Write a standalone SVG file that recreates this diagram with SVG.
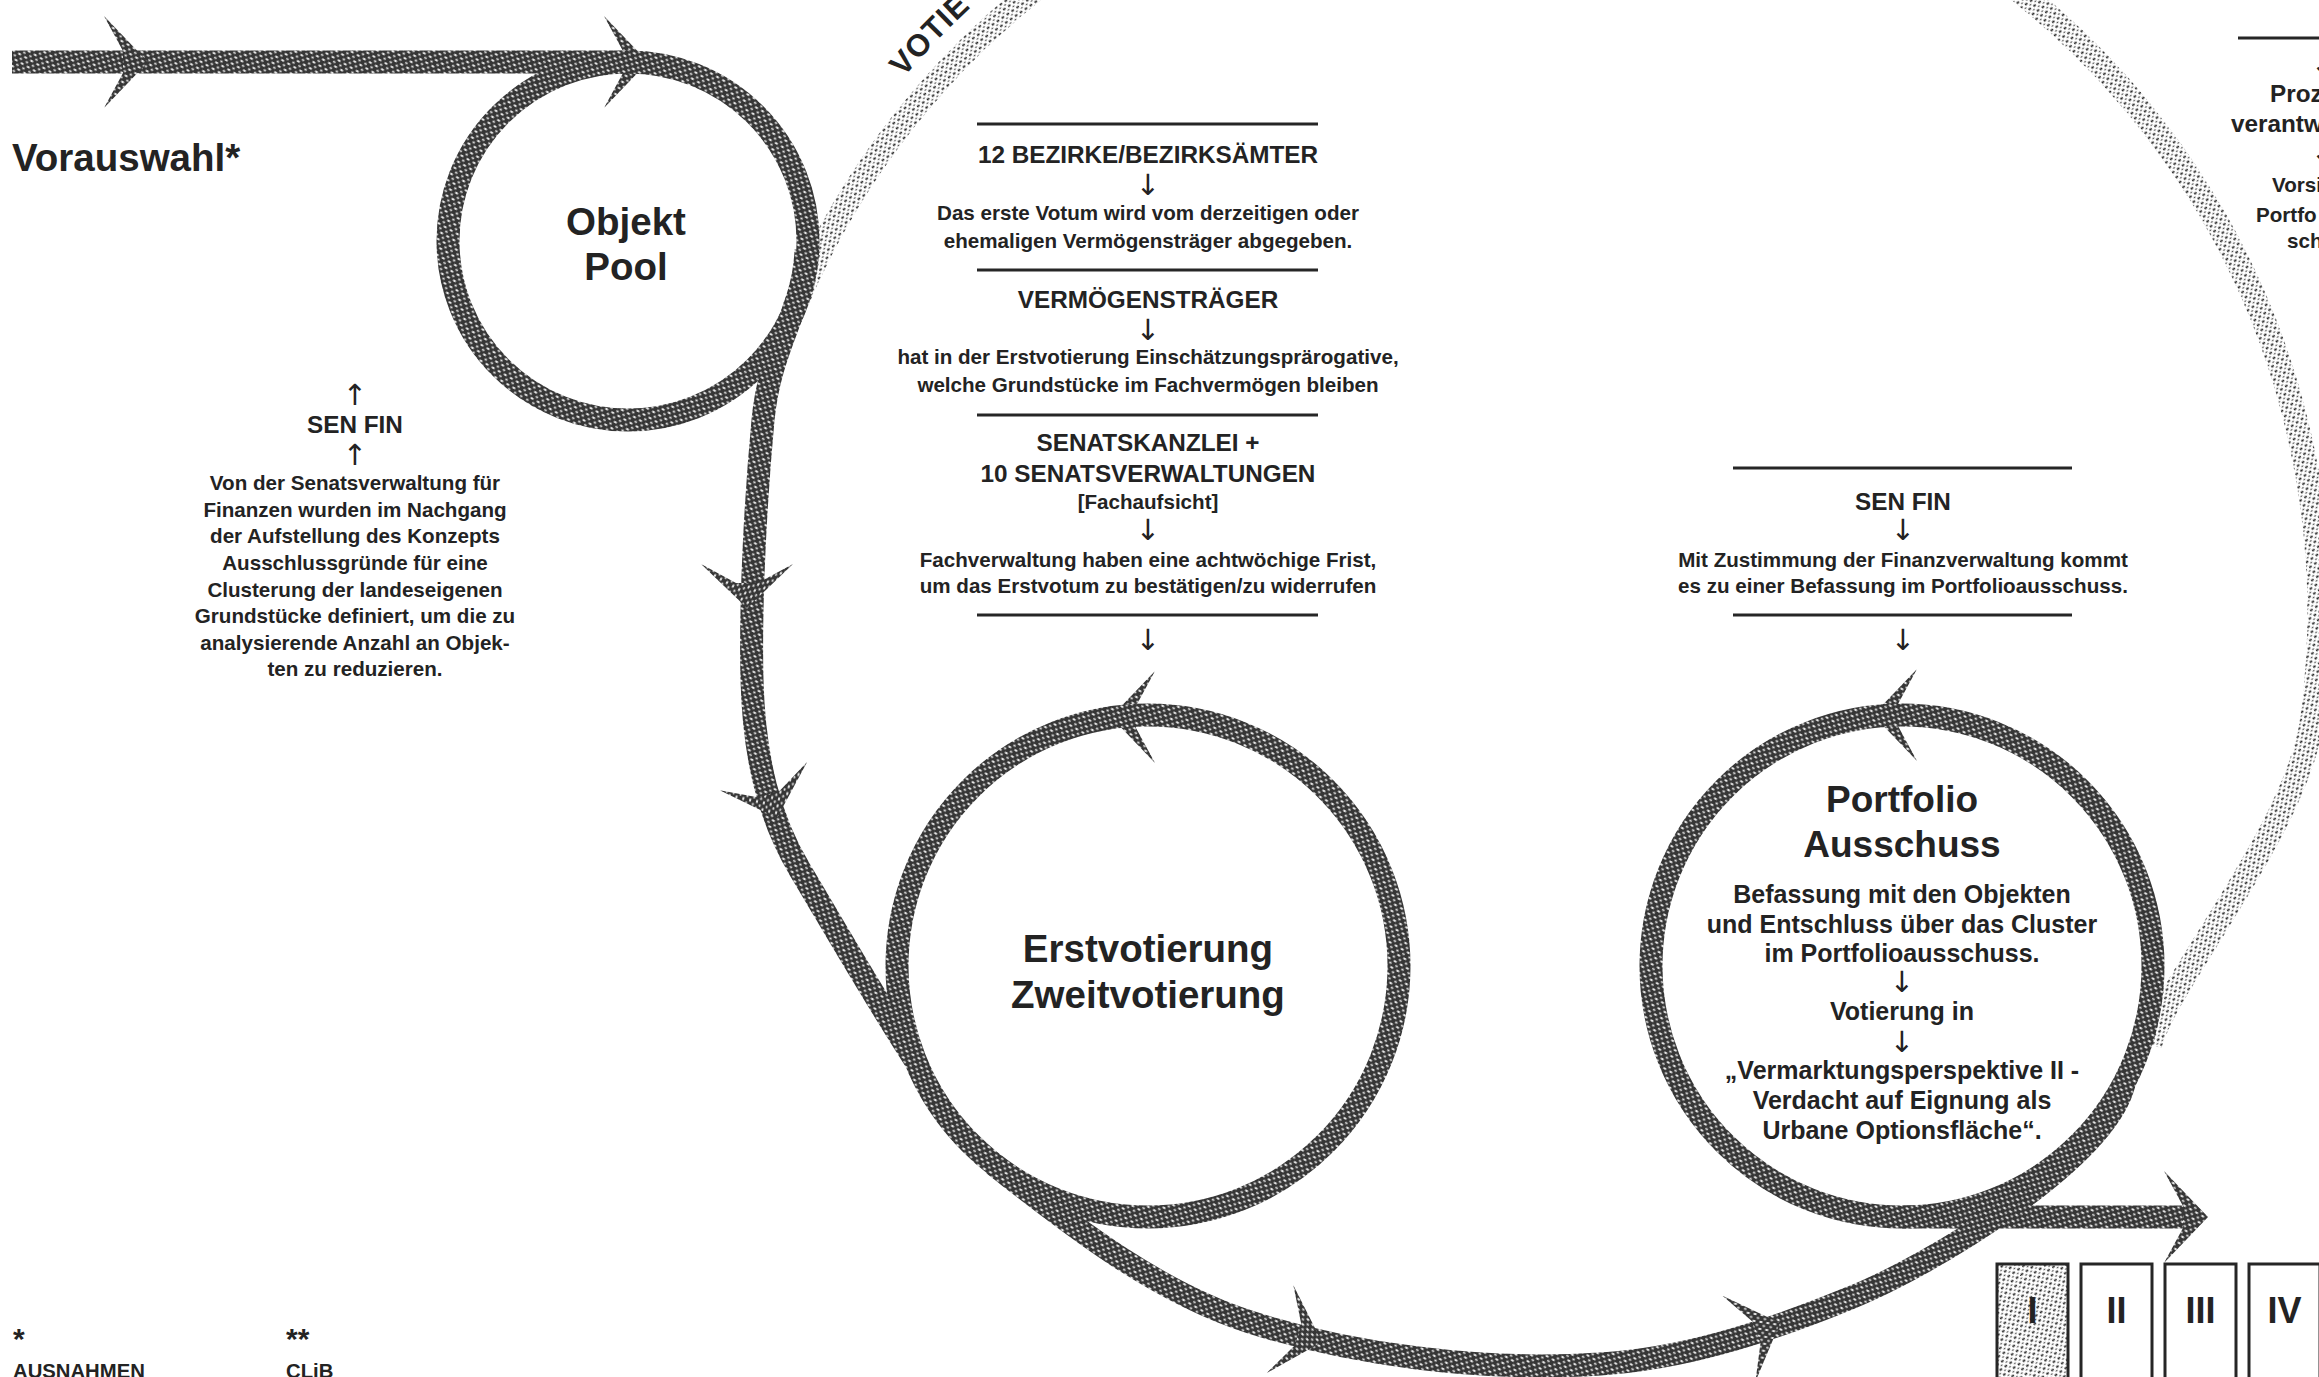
<svg xmlns="http://www.w3.org/2000/svg" width="2319" height="1377" viewBox="0 0 2319 1377">
<style>
text{font-family:"Liberation Sans",Arial,sans-serif;font-weight:700;fill:#232323}
.h{font-size:38.5px;text-anchor:middle}
.cap{font-size:24.3px;text-anchor:middle}
.b{font-size:20.6px;text-anchor:middle}
.pb{font-size:25px;text-anchor:middle}
.ar{font-family:"DejaVu Sans",sans-serif;font-size:29px;font-weight:400;text-anchor:middle;fill:#232323}
.st{text-anchor:start}
.rule{stroke:#262626;stroke-width:3.2;fill:none}
.rope{fill:none;stroke:url(#rope);stroke-width:23}
.ahd{fill:url(#rope)}
.box{stroke:#262626;stroke-width:3;fill:#fff}
.num{font-size:36px;text-anchor:middle}
</style>
<defs>
<pattern id="rope" width="7" height="7" patternUnits="userSpaceOnUse" patternTransform="rotate(30)">
<rect width="7" height="7" fill="#363636"/>
<ellipse cx="2" cy="2" rx="1.8" ry="1.1" fill="#f4f4f4"/>
<ellipse cx="5.5" cy="5.5" rx="1.4" ry="0.9" fill="#e4e4e4"/>
</pattern>
<pattern id="stip" width="6" height="6" patternUnits="userSpaceOnUse" patternTransform="rotate(-35)">
<rect width="6" height="6" fill="#fff"/>
<ellipse cx="1.5" cy="1.5" rx="1.7" ry="1.1" fill="#2a2a2a"/>
<ellipse cx="4.5" cy="4.5" rx="1.1" ry="0.7" fill="#4a4a4a"/>
</pattern>
<path id="ah" d="M0,0 L-44,-46 L-25,-11 L-25,11 L-44,46 Z"/>
<path id="votiePath" d="M903.5,77.5 A820,820 0 0 1 1246.5,-160.5" fill="none"/>
</defs>

<g id="votierung-ring">
<path d="M792,313 A793,793 0 0 1 2312,720 C2297,829 2165,985 2150,1045" fill="none" stroke="url(#stip)" stroke-width="24"/>
<text style="font-size:31px;letter-spacing:1px"><textPath href="#votiePath">VOTIE</textPath></text>
</g>

<g id="connectors">
<path class="rope" d="M12,62 L632,62"/>
<path class="rope" d="M806,250 C804,310 770,345 763,420 C756,495 750,600 752,680 C754,760 770,820 800,870 C830,920 870,990 915,1060"/>
<path class="rope" d="M993,1164 C1060,1216 1150,1290 1250,1322 C1350,1354 1480,1372 1600,1364 C1680,1359 1760,1335 1850,1298 C1930,1266 2105,1160 2124,1084"/>
<path class="rope" d="M1902,1217 L2185,1217"/>
<use href="#ah" class="ahd" transform="translate(148,62)"/>
<use href="#ah" class="ahd" transform="translate(648,62)"/>
<use href="#ah" class="ahd" transform="translate(747,608) rotate(90)"/>
<use href="#ah" class="ahd" transform="translate(777,818) rotate(72)"/>
<use href="#ah" class="ahd" transform="translate(1111,717) rotate(180)"/>
<use href="#ah" class="ahd" transform="translate(1873,715) rotate(180)"/>
<use href="#ah" class="ahd" transform="translate(1322,1342) rotate(17)"/>
<use href="#ah" class="ahd" transform="translate(1780,1323) rotate(-21)"/>
<use href="#ah" class="ahd" transform="translate(2208,1217)"/>
</g>

<g id="node-vorauswahl">
<text class="h st" x="12" y="171">Vorauswahl*</text>
</g>

<g id="node-objekt-pool">
<ellipse class="rope" cx="628" cy="241" rx="180" ry="179"/>
<text class="h" x="626" y="235">Objekt</text>
<text class="h" x="626" y="280">Pool</text>
</g>

<g id="node-erstvotierung">
<circle class="rope" cx="1148" cy="966" r="251"/>
<text class="h" x="1148" y="962">Erstvotierung</text>
<text class="h" x="1148" y="1008">Zweitvotierung</text>
</g>

<g id="node-portfolio">
<circle class="rope" cx="1902" cy="966" r="251"/>
<text class="h" x="1902" y="812" style="font-size:37px">Portfolio</text>
<text class="h" x="1902" y="857" style="font-size:37px">Ausschuss</text>
<text class="pb" x="1902" y="903">Befassung mit den Objekten</text>
<text class="pb" x="1902" y="933">und Entschluss über das Cluster</text>
<text class="pb" x="1902" y="962">im Portfolioausschuss.</text>
<text class="ar" x="1902" y="992">↓</text>
<text class="pb" x="1902" y="1020">Votierung in</text>
<text class="ar" x="1902" y="1052">↓</text>
<text class="pb" x="1902" y="1079">„Vermarktungsperspektive II -</text>
<text class="pb" x="1902" y="1109">Verdacht auf Eignung als</text>
<text class="pb" x="1902" y="1139">Urbane Optionsfläche“.</text>
</g>

<g id="note-senfin-left">
<text class="ar" x="355" y="405">↑</text>
<text class="cap" x="355" y="433">SEN FIN</text>
<text class="ar" x="355" y="465">↑</text>
<text class="b" x="355" y="490">Von der Senatsverwaltung für</text>
<text class="b" x="355" y="517">Finanzen wurden im Nachgang</text>
<text class="b" x="355" y="543">der Aufstellung des Konzepts</text>
<text class="b" x="355" y="570">Ausschlussgründe für eine</text>
<text class="b" x="355" y="597">Clusterung der landeseigenen</text>
<text class="b" x="355" y="623">Grundstücke definiert, um die zu</text>
<text class="b" x="355" y="650">analysierende Anzahl an Objek-</text>
<text class="b" x="355" y="676">ten zu reduzieren.</text>
</g>

<g id="note-votierung-middle">
<line class="rule" x1="977" y1="124" x2="1318" y2="124"/>
<text class="cap" x="1148" y="163">12 BEZIRKE/BEZIRKSÄMTER</text>
<text class="ar" x="1148" y="195">↓</text>
<text class="b" x="1148" y="220">Das erste Votum wird vom derzeitigen oder</text>
<text class="b" x="1148" y="248">ehemaligen Vermögensträger abgegeben.</text>
<line class="rule" x1="977" y1="270" x2="1318" y2="270"/>
<text class="cap" x="1148" y="308">VERMÖGENSTRÄGER</text>
<text class="ar" x="1148" y="340">↓</text>
<text class="b" x="1148" y="364">hat in der Erstvotierung Einschätzungsprärogative,</text>
<text class="b" x="1148" y="392">welche Grundstücke im Fachvermögen bleiben</text>
<line class="rule" x1="977" y1="415" x2="1318" y2="415"/>
<text class="cap" x="1148" y="451">SENATSKANZLEI +</text>
<text class="cap" x="1148" y="482">10 SENATSVERWALTUNGEN</text>
<text class="b" x="1148" y="509">[Fachaufsicht]</text>
<text class="ar" x="1148" y="540">↓</text>
<text class="b" x="1148" y="567">Fachverwaltung haben eine achtwöchige Frist,</text>
<text class="b" x="1148" y="593">um das Erstvotum zu bestätigen/zu widerrufen</text>
<line class="rule" x1="977" y1="615" x2="1318" y2="615"/>
<text class="ar" x="1148" y="650">↓</text>
</g>

<g id="note-senfin-right">
<line class="rule" x1="1733" y1="468" x2="2072" y2="468"/>
<text class="cap" x="1903" y="510">SEN FIN</text>
<text class="ar" x="1903" y="540">↓</text>
<text class="b" x="1903" y="567">Mit Zustimmung der Finanzverwaltung kommt</text>
<text class="b" x="1903" y="593">es zu einer Befassung im Portfolioausschuss.</text>
<line class="rule" x1="1733" y1="615" x2="2072" y2="615"/>
<text class="ar" x="1903" y="650">↓</text>
</g>

<g id="note-partial-right">
<line class="rule" x1="2238" y1="38" x2="2330" y2="38"/>
<text class="ar" x="2323" y="74">↓</text>
<text class="cap st" x="2270" y="102">Proz</text>
<text class="cap st" x="2231" y="132">verantw</text>
<text class="ar" x="2323" y="162">↓</text>
<text class="b st" x="2272" y="192">Vorsi</text>
<text class="b st" x="2256" y="222">Portfo</text>
<text class="b st" x="2287" y="248">sch</text>
</g>

<g id="phases">
<rect class="box" x="1997" y="1264" width="71" height="140" style="fill:url(#stip)"/>
<rect class="box" x="2081" y="1264" width="71" height="140"/>
<rect class="box" x="2165" y="1264" width="71" height="140"/>
<rect class="box" x="2249" y="1264" width="71" height="140"/>
<text class="num" x="2032.5" y="1323">I</text>
<text class="num" x="2116.5" y="1323">II</text>
<text class="num" x="2200.5" y="1323">III</text>
<text class="num" x="2284.5" y="1323">IV</text>
</g>

<g id="footnotes">
<text class="st" x="13" y="1349" style="font-size:30px">*</text>
<text class="st" x="286" y="1349" style="font-size:30px">**</text>
<text class="st" x="13" y="1378" style="font-size:20.3px">AUSNAHMEN</text>
<text class="st" x="286" y="1378" style="font-size:20.3px">CLiB</text>
</g>
</svg>
